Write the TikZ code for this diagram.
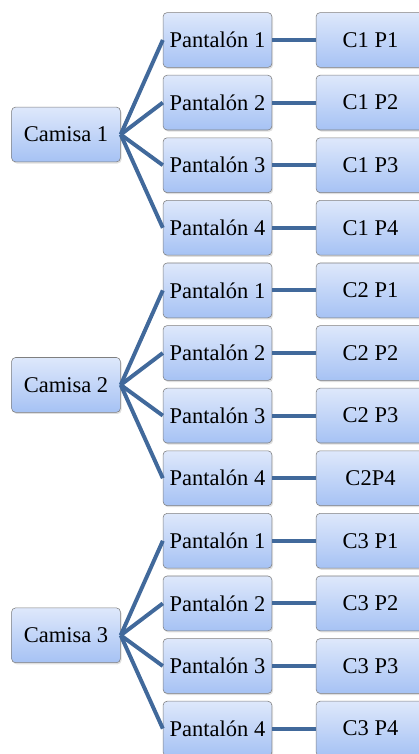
\documentclass[tikz,border=0pt]{standalone}
\usepackage{fontspec}
\setmainfont{Liberation Serif}
\usepackage{tikz}
\usetikzlibrary{shadows}
\definecolor{BoxTop}{HTML}{DEE8FB}
\definecolor{BoxBottom}{HTML}{A6C2F4}
\definecolor{BoxLine}{HTML}{7F7F7F}
\definecolor{Link}{HTML}{41699B}

\begin{document}
\begin{tikzpicture}[x=0.025cm,y=-0.025cm,
    box/.style={rectangle,rounded corners=1mm,draw=BoxLine,top color=BoxTop,bottom color=BoxBottom,minimum width=2.72cm,minimum height=1.37cm,inner sep=0pt,font=\fontsize{16}{19}\selectfont,drop shadow={opacity=0.25,shadow xshift=0.3mm,shadow yshift=-0.4mm}},
    link/.style={line width=2.8pt,draw=Link}
]
\useasboundingbox (0,0) rectangle (419,754);
\foreach \g in {1,2,3} {
  \node[box] (cam\g) at (66,{134.5+250.4*(\g-1)}) {Camisa \g};
  \foreach \p in {1,...,4} {
    \pgfmathsetmacro\ypos{40+62.6*(4*(\g-1)+\p-1)}
    \node[box] (pan\g\p) at (217.5,\ypos) {Pantalón \p};
    \node[box] (com\g\p) at (370.5,\ypos) {\ifnum\g\p=24 C2P4\else C\g~P\p\fi};
    \draw[link] (cam\g.east) -- (pan\g\p.west);
    \draw[link] (pan\g\p) -- (com\g\p);
  }
}
\end{tikzpicture}
\end{document}
